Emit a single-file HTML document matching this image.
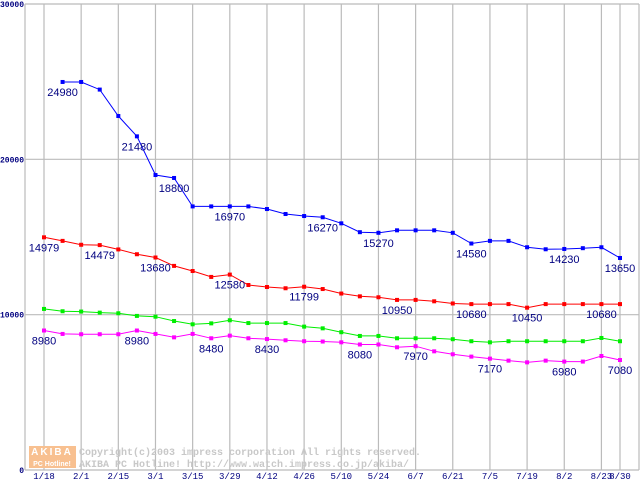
<!DOCTYPE html>
<html><head><meta charset="utf-8"><style>
html,body{margin:0;padding:0;background:#fff;}
svg{display:block;}
</style></head><body>
<svg id="chart" width="640" height="480" xmlns="http://www.w3.org/2000/svg" font-family="Liberation Sans, sans-serif">
<g id="grid"></g>
<g id="watermark">
  <rect x="29" y="446" width="47" height="22" fill="#f8c090"/>
  <text x="52" y="455" font-size="10" font-weight="bold" fill="#fff" text-anchor="middle" letter-spacing="2">AKIBA</text>
  <text x="52" y="466" font-size="7" font-weight="bold" fill="#fff" text-anchor="middle">PC Hotline!</text>
  <text x="79" y="455" font-family="Liberation Mono, monospace" font-size="10" font-weight="bold" fill="#c8c8c8">Copyright(c)2003 impress corporation All rights reserved.</text>
  <text x="79" y="467" font-family="Liberation Mono, monospace" font-size="10" font-weight="bold" fill="#c8c8c8">AKIBA PC Hotline!  http://www.watch.impress.co.jp/akiba/</text>
</g>
<g id="series"></g>
<g id="axes"></g>
</svg>
<script>
const xLabels = ["1/18","2/1","2/15","3/1","3/15","3/29","4/12","4/26","5/10","5/24","6/7","6/21","7/5","7/19","8/2","8/23","8/30"];
const xLabelIdx = [0,2,4,6,8,10,12,14,16,18,20,22,24,26,28,30,31];
const yTicks = [0,10000,20000,30000];
const blue = [null,24980,24980,24490,22790,21480,18990,18800,16970,16970,16970,16970,16800,16480,16350,16270,15880,15310,15270,15430,15430,15430,15270,14580,14750,14750,14340,14210,14230,14280,14340,13650];
const red = [14979,14750,14500,14479,14200,13890,13680,13140,12810,12430,12580,11910,11780,11700,11799,11650,11360,11180,11120,10950,10950,10860,10720,10680,10680,10680,10450,10680,10680,10680,10680,10680];
const green = [10370,10220,10200,10130,10090,9920,9870,9590,9380,9440,9640,9460,9460,9460,9230,9120,8870,8630,8630,8480,8480,8480,8420,8290,8220,8290,8290,8290,8290,8290,8500,8290];
const magenta = [8980,8760,8740,8740,8740,8980,8760,8540,8760,8480,8650,8480,8430,8350,8290,8270,8220,8080,8080,7900,7970,7640,7450,7300,7170,7040,6930,7040,6980,6980,7340,7080];
const blueLabels = [1,5,7,10,15,18,23,28,31];
const redLabels = [0,3,6,10,14,19,23,26,30];
const magentaLabels = [0,5,9,12,17,20,24,28,31];

const NS="http://www.w3.org/2000/svg";
const X0=25, X1=639, Y0=470, Y1=4, YMAX=30000;
function xs(i){return 44 + i*(620-44)/31;}
function ys(v){return Y0 - v*(Y0-Y1)/YMAX;}
function mk(tag, attrs, parent){const e=document.createElementNS(NS,tag);for(const k in attrs)e.setAttribute(k,attrs[k]);parent.appendChild(e);return e;}
const grid=document.getElementById('grid'), axes=document.getElementById('axes'), ser=document.getElementById('series');

yTicks.forEach(v=>{
  const l=mk('line',{x1:X0,x2:X1,y1:ys(v),y2:ys(v),stroke:'#bbbbbb','stroke-width':1.2},grid);
  
  
  const t=mk('text',{x:24,y:ys(v)+3,'text-anchor':'end','font-size':8,'font-weight':'bold',fill:'#000080','font-family':'Liberation Mono, monospace'},axes);
  t.textContent=v;
  
  
});
xLabelIdx.forEach((idx,k)=>{
  const l=mk('line',{x1:xs(idx),x2:xs(idx),y1:Y1,y2:Y0,stroke:'#bbbbbb','stroke-width':1.2},grid);
  
  
  const t=mk('text',{x:xs(idx),y:479,'text-anchor':'middle','font-size':9,fill:'#000080','font-family':'Liberation Mono, monospace'},axes);
  t.textContent=xLabels[k];
  
  
});
[X0,X1].forEach(x=>{
  const l=mk('line',{x1:x,x2:x,y1:Y1,y2:Y0,stroke:'#bbbbbb','stroke-width':1.2},grid);
  
  
});

function drawSeries(vals,color,name,labels){
  const g=mk('g',{},ser);
  
  
  let d='';
  vals.forEach((v,i)=>{if(v==null)return;d+=(d?'L':'M')+xs(i).toFixed(1)+' '+ys(v).toFixed(1);});
  const p=mk('path',{d:d,fill:'none',stroke:color,'stroke-width':1},g);
  
  
  vals.forEach((v,i)=>{
    if(v==null)return;
    const r=mk('rect',{x:xs(i)-2,y:ys(v)-2,width:4,height:4,fill:color},g);
    
    
  });
  (labels||[]).forEach(i=>{
    const t=mk('text',{x:xs(i),y:ys(vals[i])+14,'text-anchor':'middle','font-size':11,fill:'#000080'},g);
    t.textContent=vals[i];
    
    
  });
}
drawSeries(green,'#00ee00','green');
drawSeries(magenta,'#ff00ff','magenta',magentaLabels);
drawSeries(red,'#ff0000','red',redLabels);
drawSeries(blue,'#0000ff','blue',blueLabels);
</script>
</body></html>
